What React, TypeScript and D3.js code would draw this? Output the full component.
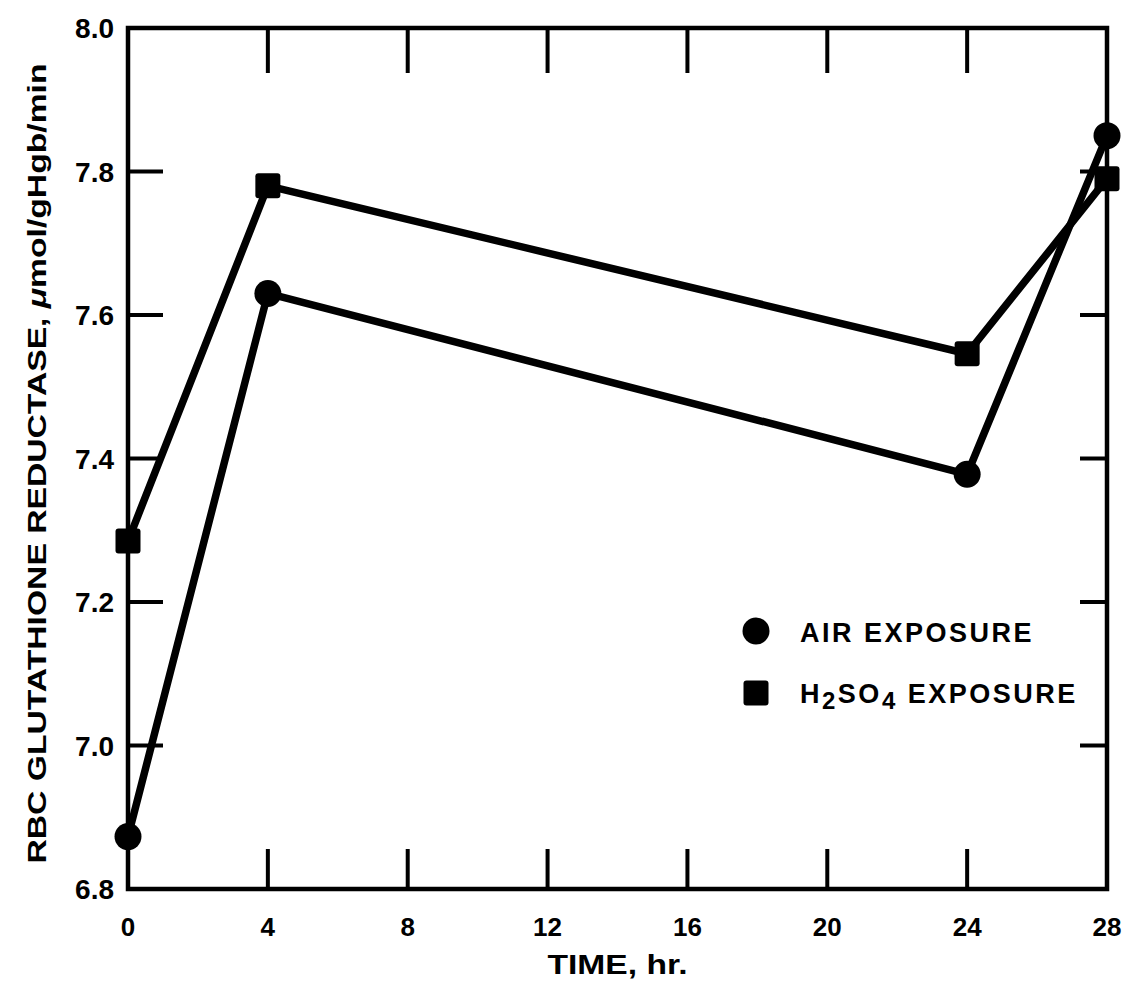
import React from "react";
import * as d3 from "d3";

const times = [0, 4, 24, 28];
const airValues = [6.873, 7.63, 7.378, 7.85];
const h2so4Values = [7.285, 7.78, 7.546, 7.79];
const xTicks = [0, 4, 8, 12, 16, 20, 24, 28];
const yTicks = [6.8, 7.0, 7.2, 7.4, 7.6, 7.8, 8.0];
const yTitle = "RBC GLUTATHIONE REDUCTASE, ";
const xTitle = "TIME, hr.";

const W = 1126;
const H = 986;
const left = 128;
const right = 1107;
const top = 28;
const bottom = 889;
const FONT = "'Liberation Sans', Arial, Helvetica, sans-serif";

export default function App() {
  const x = d3.scaleLinear().domain([0, 28]).range([left, right]);
  const y = d3.scaleLinear().domain([6.8, 8.0]).range([bottom, top]);
  const line = d3
    .line<[number, number]>()
    .x((d) => x(d[0]))
    .y((d) => y(d[1]));
  const airPts: [number, number][] = times.map((t, i) => [t, airValues[i]]);
  const hPts: [number, number][] = times.map((t, i) => [t, h2so4Values[i]]);
  const sq = 25;
  const r = 13.5;

  return (
    <svg
      width={W}
      height={H}
      style={{ position: "absolute", left: 0, top: 0, display: "block", background: "#fff" }}
      fontFamily={FONT}
    >
      <rect x={0} y={0} width={W} height={H} fill="#fff" />
      {/* frame */}
      <rect x={left} y={top} width={right - left} height={bottom - top} fill="none" stroke="#000" strokeWidth={4.5} />
      {/* x ticks bottom & top */}
      {xTicks.slice(1, -1).map((t) => (
        <g key={"xt" + t}>
          <line x1={x(t)} x2={x(t)} y1={bottom} y2={bottom - 40} stroke="#000" strokeWidth={4} />
          <line x1={x(t)} x2={x(t)} y1={top} y2={top + 45} stroke="#000" strokeWidth={4} />
        </g>
      ))}
      {/* y ticks left & right */}
      {yTicks.slice(1, -1).map((v) => (
        <g key={"yt" + v}>
          <line x1={left} x2={left + 35} y1={y(v)} y2={y(v)} stroke="#000" strokeWidth={4} />
          <line x1={right} x2={right - 27} y1={y(v)} y2={y(v)} stroke="#000" strokeWidth={4} />
        </g>
      ))}
      {/* x tick labels */}
      {xTicks.map((t) => (
        <text key={"xl" + t} x={x(t)} y={936} textAnchor="middle" fontSize={26} fontWeight="bold">
          {String(t)}
        </text>
      ))}
      {/* y tick labels */}
      {yTicks.map((v) => (
        <text key={"yl" + v} x={114} y={y(v) + 10} textAnchor="end" fontSize={28} fontWeight="bold">
          {v.toFixed(1)}
        </text>
      ))}
      {/* axis titles */}
      <text x={(left + right) / 2} y={974} textAnchor="middle" fontSize={27} fontWeight="bold" textLength={140} lengthAdjust="spacingAndGlyphs">
        {xTitle}
      </text>
      <text
        transform={`translate(46,${(top + bottom) / 2 + 5}) rotate(-90)`}
        textAnchor="middle"
        fontSize={25}
        fontWeight="bold"
        textLength={800}
        lengthAdjust="spacingAndGlyphs"
      >
        {yTitle}
        <tspan fontStyle="italic">μ</tspan>mol/gHgb/min
      </text>
      {/* series lines */}
      <path d={line(hPts) || ""} fill="none" stroke="#000" strokeWidth={7.5} strokeLinejoin="round" />
      <path d={line(airPts) || ""} fill="none" stroke="#000" strokeWidth={7.5} strokeLinejoin="round" />
      {/* markers */}
      {hPts.map((p, i) => (
        <rect key={"hs" + i} x={x(p[0]) - sq / 2} y={y(p[1]) - sq / 2} width={sq} height={sq} rx={3} fill="#000" />
      ))}
      {airPts.map((p, i) => (
        <circle key={"ac" + i} cx={x(p[0])} cy={y(p[1])} r={r} fill="#000" />
      ))}
      {/* legend */}
      <circle cx={756} cy={631} r={r} fill="#000" />
      <text x={800} y={642} fontSize={27} fontWeight="bold" letterSpacing={2.5}>
        AIR EXPOSURE
      </text>
      <rect x={756 - sq / 2} y={693 - sq / 2} width={sq} height={sq} rx={3} fill="#000" />
      <text x={800} y={703} fontSize={27} fontWeight="bold" letterSpacing={2.5}>
        H<tspan fontSize={24} dy={6}>2</tspan>
        <tspan dy={-6}>SO</tspan>
        <tspan fontSize={24} dy={6}>4</tspan>
        <tspan dy={-6}> EXPOSURE</tspan>
      </text>
    </svg>
  );
}
